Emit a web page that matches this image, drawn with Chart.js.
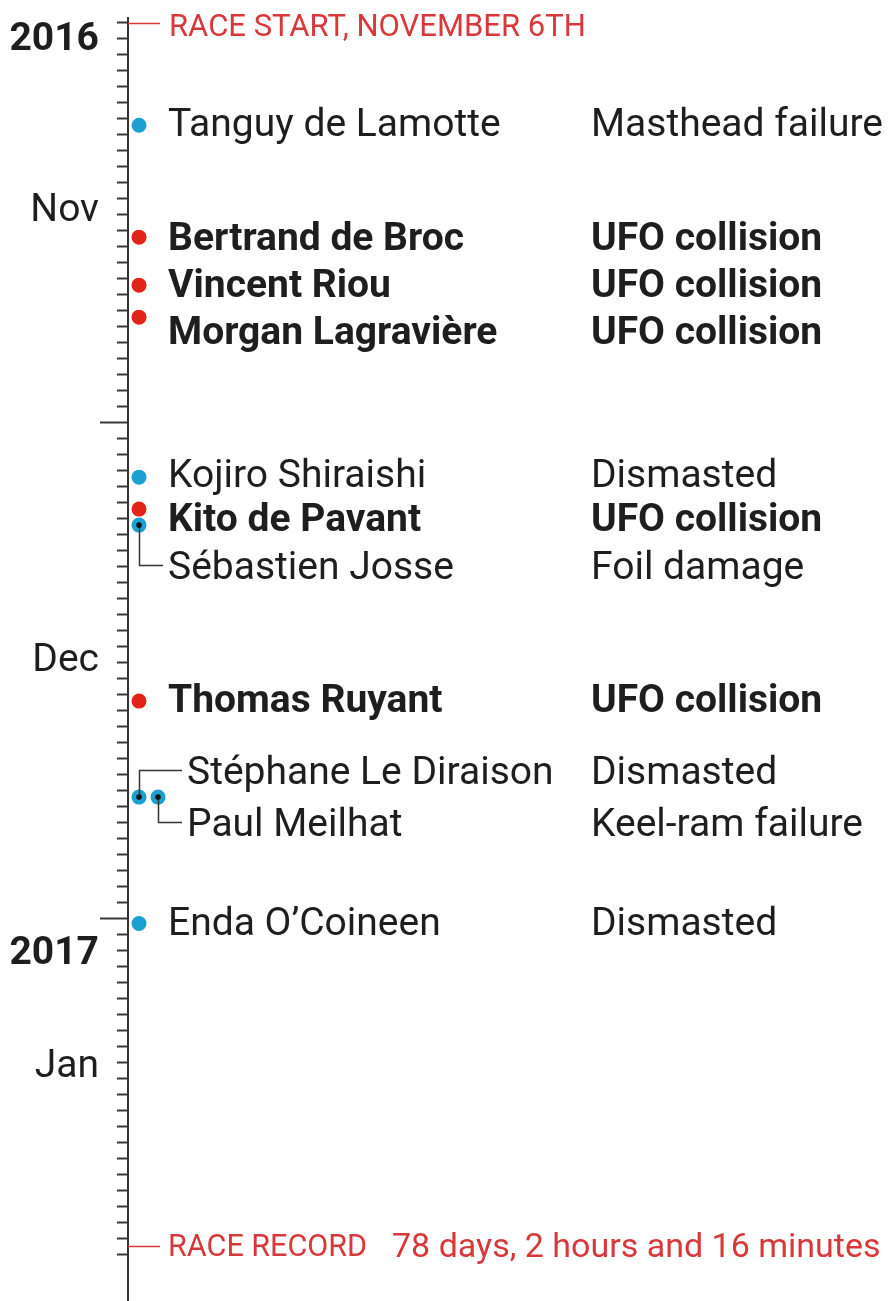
<!DOCTYPE html>
<html>
<head>
<meta charset="utf-8">
<script src="https://cdn.jsdelivr.net/npm/chart.js@4"></script>
<style>
  body { margin: 0; background: #fff; }
  canvas { display: block; }
</style>
</head>
<body>
<canvas id="myChart" width="890" height="1301"></canvas>
<script>
// Vendee Globe retirements, y = days counted from Nov 6th 2016
let skippers = ['Tanguy de Lamotte', 'Bertrand de Broc', 'Vincent Riou', 'Morgan Lagravière',
  'Kojiro Shiraishi', 'Kito de Pavant', 'Sébastien Josse', 'Thomas Ruyant',
  'Stéphane Le Diraison', 'Paul Meilhat', 'Enda O’Coineen'];
let causes = ['Masthead failure', 'UFO collision', 'UFO collision', 'UFO collision',
  'Dismasted', 'UFO collision', 'Foil damage', 'UFO collision',
  'Dismasted', 'Keel-ram failure', 'Dismasted'];
let retiredDay = [6.4, 13.4, 16.4, 18.4, 28.4, 30.4, 31.4, 42.4, 48.4, 48.4, 56.3];
// two boats out on the same day sit side by side
let lane = [0, 0, 0, 0, 0, 0, 0, 0, 0, 1, 0];

let raceStart = 0;
let raceRecord = 76.45;
let lastTickDay = 77;
let monthStarts = [25, 56]; // Dec 1st, Jan 1st
let axisLabels = ['2016', 'Nov', 'Dec', '2017', 'Jan'];
let axisLabelDays = [1.1, 11.8, 39.9, 58.2, 65.3];

// label nudges (px) so the rows don't collide
let labelShift = [1, 3, 2, 17, 0, 12, 44, 1, -23, 29, 2];

const RED = '#e2231a';
const BLUE = '#1c9fd1';
const RED_TXT = '#d9383a';
const INK = '#1e1e1e';
const FONT = 'Roboto';

let isUfo = causes.map(c => c === 'UFO collision');
let points = retiredDay.map((d, i) => ({x: lane[i], y: d, i: i}));

const annotate = {
  id: 'annotate',
  afterDatasetsDraw(chart) {
    const ctx = chart.ctx;
    const ys = chart.scales.y, xs = chart.scales.x;
    const axisX = ys.right;
    ctx.save();

    // race start and record markers
    ctx.strokeStyle = RED_TXT;
    ctx.lineWidth = 1.5;
    ctx.fillStyle = RED_TXT;
    ctx.textBaseline = 'middle';
    [raceStart, raceRecord].forEach(v => {
      const py = Math.round(ys.getPixelForValue(v)) + 0.5;
      ctx.beginPath();
      ctx.moveTo(axisX, py);
      ctx.lineTo(axisX + 32, py);
      ctx.stroke();
    });
    ctx.font = '31px ' + FONT;
    ctx.fillText('RACE START, NOVEMBER 6TH', 169, ys.getPixelForValue(raceStart) + 5);
    ctx.font = '30.5px ' + FONT;
    ctx.fillText('RACE RECORD', 168, ys.getPixelForValue(raceRecord) + 3);
    ctx.font = '34px ' + FONT;
    ctx.fillText('78 days, 2 hours and 16 minutes', 392, ys.getPixelForValue(raceRecord) + 3);

    // skipper rows
    ctx.fillStyle = INK;
    skippers.forEach((name, i) => {
      const dx = xs.getPixelForValue(lane[i]);
      const dy = ys.getPixelForValue(retiredDay[i]);
      const ty = dy + labelShift[i];
      const shared = retiredDay.some((d, j) => j !== i && d === retiredDay[i] && (lane[j] > 0 || lane[i] > 0));
      const tx = shared ? 187 : 168;
      ctx.font = (isUfo[i] ? 'bold ' : '') + '39px ' + FONT;
      ctx.fillText(name, tx, ty);
      ctx.fillText(causes[i], 591, ty);

      if (Math.abs(labelShift[i]) > 20) {
        const ly = Math.round(ty - 4) + 0.5;
        const lx = Math.round(dx) + 0.5;
        ctx.strokeStyle = '#333';
        ctx.lineWidth = 1.5;
        ctx.beginPath();
        ctx.moveTo(lx, dy);
        ctx.lineTo(lx, ly);
        ctx.lineTo(tx - 5, ly);
        ctx.stroke();
        ctx.fillStyle = '#111';
        ctx.beginPath();
        ctx.arc(dx, dy, 2.8, 0, Math.PI * 2);
        ctx.fill();
        ctx.fillStyle = INK;
      }
    });
    ctx.restore();
  }
};

let ctx = document.getElementById('myChart');

let myChart = new Chart(ctx, {
  type: 'scatter',
  data: {
    datasets: [
      {
        label: 'Other damage',
        data: points.filter(p => !isUfo[p.i]),
        backgroundColor: BLUE,
        pointRadius: 7.5,
        borderWidth: 0
      },
      {
        label: 'UFO collision',
        data: points.filter(p => isUfo[p.i]),
        backgroundColor: RED,
        pointRadius: 7.5,
        borderWidth: 0
      }
    ]
  },
  options: {
    responsive: false,
    animation: false,
    devicePixelRatio: 1,
    events: [],
    layout: {autoPadding: false, padding: {top: 18, right: 0, bottom: 0, left: 0}},
    plugins: {legend: {display: false}, tooltip: {enabled: false}},
    scales: {
      x: {
        type: 'linear',
        display: false,
        min: -0.58,
        max: 39.5
      },
      y: {
        type: 'linear',
        reverse: true,
        min: -0.3,
        max: 79.9,
        afterBuildTicks(scale) {
          let t = [];
          for (let d = 0; d <= lastTickDay; d++) {
            t.push({value: d, kind: monthStarts.includes(d) ? 'month' : 'day'});
          }
          axisLabelDays.forEach((v, i) => t.push({value: v, kind: 'label', text: axisLabels[i]}));
          t.sort((a, b) => a.value - b.value);
          scale.ticks = t;
        },
        afterFit(scale) {
          scale.width = 128;
          scale.paddingTop = 0;
          scale.paddingBottom = 0;
        },
        border: {display: true, color: '#333', width: 2},
        grid: {
          drawOnChartArea: false,
          drawTicks: true,
          tickLength: 28,
          tickWidth: 2,
          tickColor: c => (c.tick && c.tick.kind === 'label') ? 'rgba(0,0,0,0)' : '#383838',
          tickBorderDash: c => (c.tick && c.tick.kind === 'day') ? [0, 17, 20, 0] : []
        },
        ticks: {
          autoSkip: false,
          padding: 1,
          color: INK,
          callback: (v, i, ticks) => ticks[i].kind === 'label' ? ticks[i].text : '',
          font: c => {
            if (c.tick && c.tick.kind === 'label') {
              return {family: FONT, size: 39, weight: /^\d+$/.test(c.tick.text) ? 'bold' : 'normal'};
            }
            return {family: FONT, size: 1};
          }
        }
      }
    }
  },
  plugins: [annotate]
});
</script>
</body>
</html>
